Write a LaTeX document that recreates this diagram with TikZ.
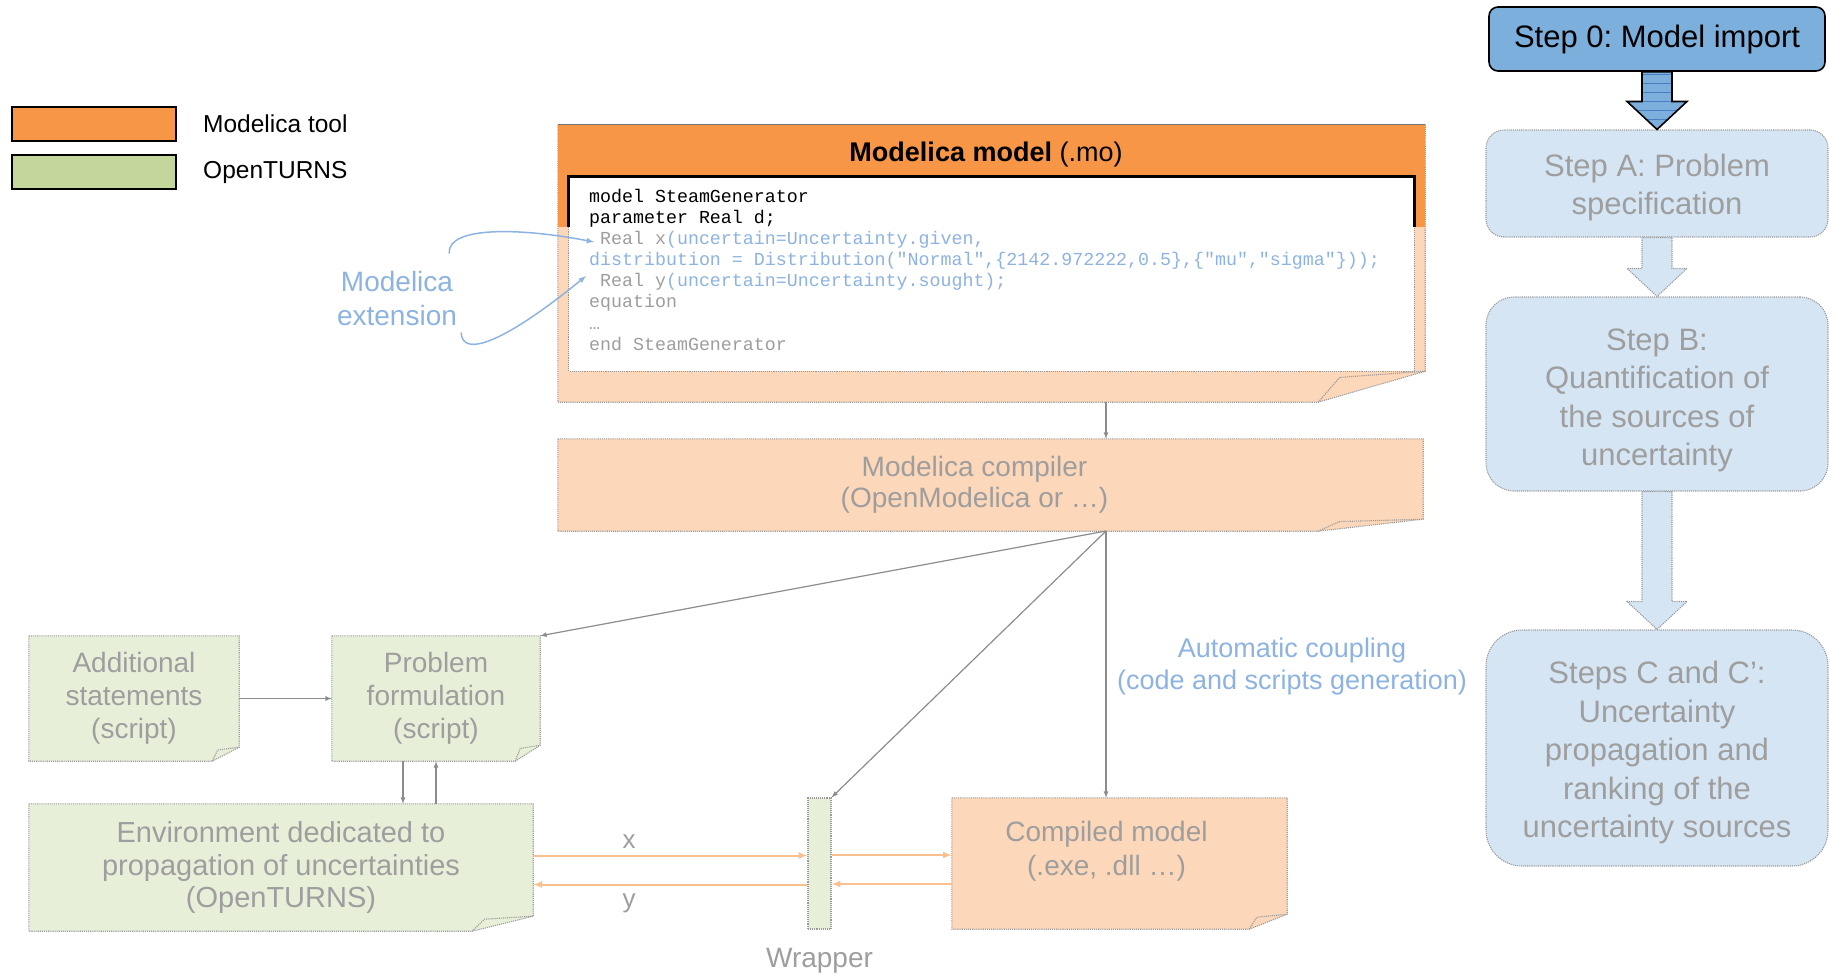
\documentclass[tikz,border=0pt]{standalone}
\usepackage{fontspec}
\setmainfont{Liberation Sans}
\newfontfamily\codefont{Liberation Mono}
\usepackage{tikz}
\usetikzlibrary{arrows}
\usetikzlibrary{positioning}
\usetikzlibrary{calc}
\usetikzlibrary{backgrounds}
\usetikzlibrary{patterns.meta}
\frenchspacing

\definecolor{modorange}{RGB}{247,150,70}
\definecolor{otgreen}{RGB}{195,214,155}
\definecolor{stepblue}{RGB}{125,175,220}
\definecolor{stripeblue}{RGB}{70,125,195}
\definecolor{extblue}{RGB}{141,179,226}
\colorlet{fadeorange}{modorange!38!white}
\colorlet{fadegreen}{otgreen!38!white}
\colorlet{fadeblue}{stepblue!32!white}
\colorlet{fadearrow}{modorange!60!white}
\colorlet{fadetext}{black!38}
\colorlet{fadeline}{black!40}

% note with a folded corner, drawn behind a node
\newcommand{\notebg}[4]{%
  \path[#4] (#1.north west) -- (#1.north east) -- ([yshift=#3]#1.south east)
    -- ([xshift=-#2]#1.south east) -- (#1.south west) -- cycle;
  \draw[faded] ([xshift=-#2]#1.south east) -- ([xshift=-0.8*#2,yshift=0.8*#3]#1.south east)
    -- ([yshift=#3]#1.south east);}

% wide arrow between two step boxes
\newcommand{\steparrow}[3][]{%
  \draw[#1] ($(#2.south)+(-15,0)$) -- ($(#3.north)+(-15,-28)$)
    -- ($(#3.north)+(-30,-28)$) -- (#3.north) -- ($(#3.north)+(30,-28)$)
    -- ($(#3.north)+(15,-28)$) -- ($(#2.south)+(15,0)$) -- cycle;}

\begin{document}
\begin{tikzpicture}[x=1pt,y=-1pt,
  every node/.style={inner sep=0pt},
  faded/.style={draw=fadeline, densely dotted, line width=1.1pt},
  legbox/.style={draw=black, line width=2pt, minimum width=164pt, minimum height=34pt},
  stepbox/.style={minimum width=342pt, align=center, font=\fontsize{31}{38.5}\selectfont},
  ghoststep/.style={stepbox, faded, fill=fadeblue, text=fadetext},
  ghostarrow/.style={faded, fill=fadeblue},
  importarrow/.style={draw=black, line width=1.6pt, preaction={fill=stepblue},
    pattern={Lines[angle=0,distance=9pt,line width=0.7pt]}, pattern color=stripeblue},
  notetext/.style={align=center, text=fadetext, font=\fontsize{28}{33}\selectfont},
  conn/.style={-latex, draw=black!45, line width=1.2pt},
  oconn/.style={-latex, draw=fadearrow, line width=2pt},
  extconn/.style={-latex, draw=extblue, line width=1.5pt}]

  \useasboundingbox (0,0) rectangle (1829,974);

  % legend
  \node[legbox, fill=modorange] (legmod) at (94,123.5) {};
  \node[legbox, fill=otgreen] (legot) at (94,172) {};
  \node[right=26pt of legmod, font=\fontsize{24.5}{28}\selectfont] (legmodtxt) {Modelica tool};
  \node[right=26pt of legot, font=\fontsize{24.5}{28}\selectfont] (legottxt) {OpenTURNS};

  % steps
  \node[stepbox, minimum width=336pt, minimum height=64pt, rounded corners=9pt,
        fill=stepblue, draw=black, line width=1.6pt] (step0) at (1657,39) {Step 0: Model import};
  \node[ghoststep, minimum height=107pt, rounded corners=18pt] (stepA) at (1657,183.5)
        {\rule{0pt}{30pt}Step A: Problem\\specification};
  \node[ghoststep, minimum height=194pt, rounded corners=28pt] (stepB) at (1657,394)
        {\rule{0pt}{34pt}Step B:\\Quantification of\\the sources of\\uncertainty};
  \node[ghoststep, minimum height=236pt, rounded corners=36pt] (stepC) at (1657,748)
        {\rule{0pt}{32pt}Steps C and C':\\Uncertainty\\propagation and\\ranking of the\\uncertainty sources};

  \steparrow[importarrow]{step0}{stepA}
  \steparrow[ghostarrow]{stepA}{stepB}
  \steparrow[ghostarrow]{stepB}{stepC}

  % Modelica model
  \node[minimum width=867pt, minimum height=277pt] (mo) at (991.5,263.5) {};
  \node[font=\fontsize{27}{30}\selectfont] (motitle) at (986,155) {\textbf{Modelica model} (.mo)};
  \node[minimum width=845pt, minimum height=194pt] (mocode) at (991.5,274) {};
  \node[anchor=north west, align=left, font=\codefont\fontsize{18.3}{21.1}\selectfont] (codetxt) at (589,189)
    {model SteamGenerator\\
     parameter Real d;\\
     {\color{fadetext}\phantom{x}Real x}{\color{extblue}(uncertain=Uncertainty.given,}\\
     {\color{extblue}distribution = Distribution("Normal",\{2142.972222,0.5\},\{"mu","sigma"\}));}\\
     {\color{fadetext}\phantom{x}Real y}{\color{extblue}(uncertain=Uncertainty.sought);}\\
     {\color{fadetext}equation}\\
     {\color{fadetext}…}\\
     {\color{fadetext}end SteamGenerator}};

  \node[align=center, text=extblue, font=\fontsize{28}{34}\selectfont] (ext) at (397,298) {Modelica\\extension};
  \coordinate (realx) at (594,242);
  \coordinate (realy) at (586,276);

  % compiler and coupled tools
  \node[minimum width=865pt, minimum height=92pt,
        label={[notetext, font=\fontsize{28}{31}\selectfont, xshift=-16pt]center:{Modelica compiler\\(OpenModelica or …)}}]
        (comp) at (990.5,485) {};
  \coordinate (tap) at (1106,531);
  \node[notetext, minimum width=210pt, minimum height=125pt] (addst) at (134,698.5) {Additional\\statements\\(script)};
  \node[notetext, minimum width=208pt, minimum height=125pt] (pform) at (436,698.5) {Problem\\formulation\\(script)};
  \node[notetext, font=\fontsize{29}{32.5}\selectfont, minimum width=504pt, minimum height=127pt] (env) at (281,867.5)
        {Environment dedicated to\\propagation of uncertainties\\(OpenTURNS)};
  \node[faded, fill=fadegreen, minimum width=23pt, minimum height=131pt] (wrap) at (819.5,863.5) {};
  \node[below=18pt of wrap, text=fadetext, font=\fontsize{28}{32}\selectfont] (wraplbl) {Wrapper};
  \node[minimum width=335pt, minimum height=131pt,
        label={[notetext, font=\fontsize{28}{34}\selectfont, xshift=-13pt, yshift=12pt]center:{Compiled model\\(.exe, .dll …)}}]
        (cmod) at (1119.5,863.5) {};
  \node[align=center, text=extblue, font=\fontsize{27}{32}\selectfont] (autocpl) at (1292,667)
        {Automatic coupling\\(code and scripts generation)};

  % connectors
  \draw[extconn] ([shift={(-8,-17)}]ext.north east) .. controls +(-2,-28) and +(-72,-14) .. (realx);
  \draw[extconn] ([shift={(4,7)}]ext.south east) .. controls +(1,26) and +(-81,66) .. (realy);
  \draw[conn] (mo.south -| tap) -- (comp.north -| tap);
  \draw[conn] (tap) -- (pform.north east);
  \draw[conn] (tap) -- (wrap.north east);
  \draw[conn] (tap) -- (cmod.north -| tap);
  \draw[conn] (addst.east) -- (addst.east -| pform.west);
  \draw[conn] ([xshift=-33pt]pform.south) -- ([xshift=-33pt]pform.south |- env.north);
  \draw[conn] (pform.south |- env.north) -- (pform.south);
  \draw[oconn] ([yshift=12pt]env.east) -- ([yshift=12pt]env.east -| wrap.west)
    node[pos=0.35, above=6pt, text=fadetext, font=\fontsize{26}{30}\selectfont] {x};
  \draw[oconn] ([yshift=-17pt]env.east -| wrap.west) -- ([yshift=-17pt]env.east)
    node[pos=0.65, below=8pt, text=fadetext, font=\fontsize{26}{30}\selectfont] {y};
  \draw[oconn] ([yshift=8.5pt]wrap.east) -- ([yshift=8.5pt]wrap.east -| cmod.west);
  \draw[oconn] ([yshift=-20.5pt]wrap.east -| cmod.west) -- ([yshift=-20.5pt]wrap.east);

  % backgrounds of the notes
  \begin{scope}[on background layer]
    \notebg{mo}{107pt}{31pt}{faded, fill=fadeorange}
    \path[faded, fill=white] (mocode.north west) rectangle (mocode.south east);
    \begin{scope}
      \clip (mo.north west) rectangle ($(mo.north east)+(0,102)$);
      \fill[modorange] (mo.north west) rectangle (mo.south east);
      \draw[black!55, line width=1pt] (mo.north west) -- (mo.north east);
      \path[fill=white, draw=black, line width=3pt] (mocode.north west) rectangle (mocode.south east);
    \end{scope}
    \notebg{comp}{105pt}{12pt}{faded, fill=fadeorange}
    \notebg{addst}{27pt}{14pt}{faded, fill=fadegreen}
    \notebg{pform}{25pt}{16pt}{faded, fill=fadegreen}
    \notebg{env}{61pt}{15pt}{faded, fill=fadegreen}
    \notebg{cmod}{38pt}{15pt}{faded, fill=fadeorange}
  \end{scope}

\end{tikzpicture}
\end{document}
